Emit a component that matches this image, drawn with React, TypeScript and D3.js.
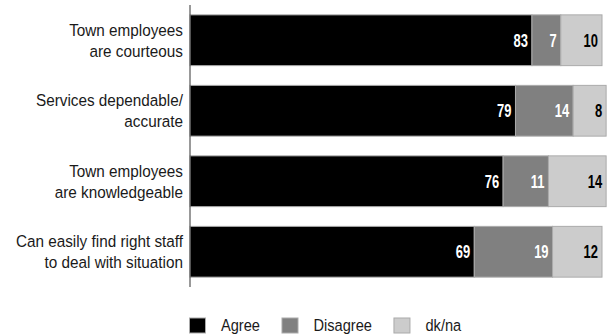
import React, { useEffect, useRef } from "react";
import * as d3 from "d3";

const categories = [
  ["Town employees", "are courteous"],
  ["Services dependable/", "accurate"],
  ["Town employees", "are knowledgeable"],
  ["Can easily find right staff", "to deal with situation"],
];
const seriesNames = ["Agree", "Disagree", "dk/na"];
const agree = [83, 79, 76, 69];
const disagree = [7, 14, 11, 19];
const dkna = [10, 8, 14, 12];
const colors = ["#000000", "#808080", "#cccccc"];
const labelColors = ["#ffffff", "#ffffff", "#000000"];

const W = 608;
const H = 335;
const FONT = "'Liberation Sans', Arial, sans-serif";

export default function App() {
  const ref = useRef<SVGSVGElement | null>(null);
  useEffect(() => {
    const svg = d3.select(ref.current);
    svg.selectAll("*").remove();
    const x = d3.scaleLinear().domain([0, 100]).range([190, 602]);
    const y = d3
      .scaleBand<number>()
      .domain(d3.range(categories.length))
      .range([5, 287])
      .paddingInner(0.28)
      .paddingOuter(0.14);
    const series = [agree, disagree, dkna];

    const addText = (
      parent: d3.Selection<any, any, any, any>,
      tx: number,
      ty: number,
      sx: number,
      txt: string,
      opts: { anchor: string; size: number; weight?: string; fill: string; dy?: string }
    ) => {
      const gg = parent.append("g").attr("transform", `translate(${tx},${ty}) scale(${sx},1)`);
      const t = gg
        .append("text")
        .attr("x", 0)
        .attr("y", 0)
        .attr("dy", opts.dy || "0")
        .attr("text-anchor", opts.anchor)
        .attr("font-family", FONT)
        .attr("font-size", opts.size)
        .attr("font-weight", opts.weight || "normal")
        .attr("fill", opts.fill)
        .text(txt);
      return (t.node() as SVGTextElement).getComputedTextLength() * sx;
    };

    const g = svg.append("g");
    categories.forEach((cat, i) => {
      let cum = 0;
      series.forEach((s, k) => {
        const v = s[i];
        const x0 = x(cum);
        const x1 = x(cum + v);
        g.append("rect")
          .attr("x", x0)
          .attr("y", y(i)!)
          .attr("width", x1 - x0)
          .attr("height", y.bandwidth())
          .attr("fill", colors[k])
          .attr("stroke", "#aaaaaa")
          .attr("stroke-width", 1);
        addText(g, x1 - 4, y(i)! + y.bandwidth() / 2, 0.72, String(v), {
          anchor: "end",
          size: 18,
          weight: "bold",
          fill: labelColors[k],
          dy: "0.36em",
        });
        cum += v;
      });
      const cy = y(i)! + y.bandwidth() / 2;
      cat.forEach((line, j) => {
        addText(g, 183, cy + (j - (cat.length - 1) / 2) * 21, 0.9, line, {
          anchor: "end",
          size: 17,
          fill: "#1a1a1a",
          dy: "0.36em",
        });
      });
    });

    g.append("line")
      .attr("x1", x(0))
      .attr("x2", x(0))
      .attr("y1", 5)
      .attr("y2", 287)
      .attr("stroke", "#555")
      .attr("stroke-width", 1.2);

    // legend
    const lg = svg.append("g");
    let lx = 189.5;
    seriesNames.forEach((name, k) => {
      lg.append("rect")
        .attr("x", lx)
        .attr("y", 318)
        .attr("width", 16)
        .attr("height", 15)
        .attr("fill", colors[k])
        .attr("stroke", "#aaaaaa");
      const w = addText(lg, lx + 31.5, 331, 0.86, name, {
        anchor: "start",
        size: 17,
        fill: "#1a1a1a",
      });
      lx = lx + 31.5 + w + 22;
    });
  }, []);
  return (
    <svg
      ref={ref}
      width={W}
      height={H}
      style={{ position: "absolute", left: 0, top: 0, background: "#fff" }}
    />
  );
}
